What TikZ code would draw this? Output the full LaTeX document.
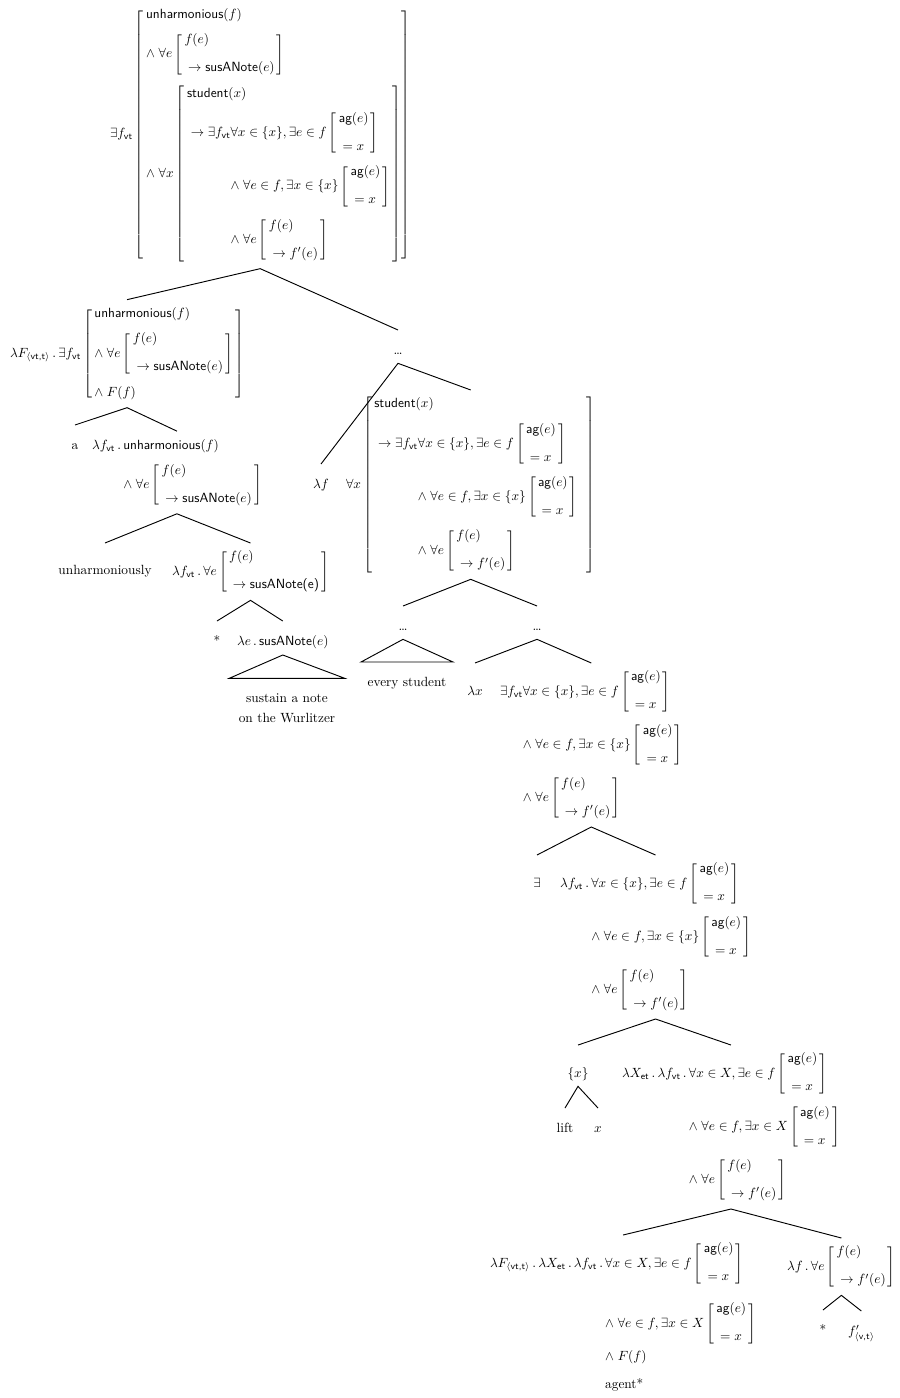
\documentclass[tikz,border=0pt]{standalone}
\usepackage{amsmath}
\usepackage{amssymb}
\usepackage{tikz}
\usetikzlibrary{positioning}

\newcommand{\sfn}[1]{\textsf{#1}}
\newcommand{\vt}{_{\sfn{vt}}}
\newcommand{\nl}{\\\noalign{\vskip 7pt}}
\newcommand{\brk}[2]{\left[\begin{array}{@{\,}l@{\,}}#1\\[9pt]#2\end{array}\right]}
\newcommand{\agx}{\brk{\sfn{ag}(e)}{{}=x}}

\begin{document}
\begin{tikzpicture}[x=0.75pt, y=-0.75pt,
    den/.style={inner sep=0pt, outer xsep=0pt, outer ysep=5pt, anchor=base west},
    wrd/.style={inner sep=0pt, outer xsep=0pt, outer ysep=5pt, text height=13pt, text depth=2pt, anchor=base},
    br/.style={line width=0.7pt}]
  \useasboundingbox (0,0) rectangle (899,1398);

  % root
  \node[den] (root) at (110,138) {$\exists f\vt\left[\begin{array}{@{\,}l@{}}
      \sfn{unharmonious}(f)\nl
      \wedge\;\forall e\brk{f(e)}{{}\to\sfn{susANote}(e)}\nl
      \wedge\;\forall x\left[\begin{array}{@{\,}r@{}l@{\,}}
        \multicolumn{2}{@{\,}l@{\,}}{\sfn{student}(x)}\nl
        {}\to\exists f\vt & \forall x\in\{x\},\exists e\in f\agx\nl
        & \wedge\;\forall e\in f,\exists x\in\{x\}\agx\nl
        & \wedge\;\forall e\brk{f(e)}{{}\to f'(e)}
      \end{array}\right]
    \end{array}\right]$};

  % left half: a unharmoniously ...
  \node[den] (qA) at (10,357) {$\lambda F_{\langle\sfn{vt,t}\rangle}\,.\,\exists f\vt\left[\begin{array}{@{\,}l@{\,}}
      \sfn{unharmonious}(f)\nl
      \wedge\;\forall e\brk{f(e)}{{}\to\sfn{susANote}(e)}\nl
      \wedge\;F(f)
    \end{array}\right]$};
  \node[wrd] (dots1) at (398,354) {\ldots};
  \node[wrd] (a) at (75,449) {a};
  \node[den] (unh) at (92,449) {$\begin{array}[t]{@{}r@{}l@{}}
      \lambda f\vt\,.\, & \sfn{unharmonious}(f)\nl
      & \wedge\;\forall e\brk{f(e)}{{}\to\sfn{susANote}(e)}
    \end{array}$};
  \node[wrd] (unhly) at (105,574) {unharmoniously};
  \node[den] (unhf) at (172,575) {$\lambda f\vt\,.\,\forall e\brk{f(e)}{{}\to\sfn{susANote(e)}}$};
  \node[wrd] (star1) at (217,645) {*};
  \node[den, text height=13pt] (le) at (237,645) {$\lambda e\,.\,\sfn{susANote}(e)$};
  \node[inner sep=0pt, align=center, anchor=north] (sust) at (287,693) {sustain a note\\[3pt]on the Wurlitzer};

  % right half: every student ...
  \node[wrd] (lf) at (321,488) {$\lambda f$};
  \node[den] (fx) at (346,488) {$\forall x\left[\begin{array}{@{\,}r@{}l@{\,}}
      \multicolumn{2}{@{\,}l@{\,}}{\sfn{student}(x)}\nl
      {}\to\exists f\vt & \forall x\in\{x\},\exists e\in f\agx\nl
      & \wedge\;\forall e\in f,\exists x\in\{x\}\agx\hspace{5pt}\nl
      & \wedge\;\forall e\brk{f(e)}{{}\to f'(e)}
    \end{array}\right]$};
  \node[wrd] (dotsL) at (403,630) {\ldots};
  \node[wrd] (dotsR) at (537,630) {\ldots};
  \node[wrd] (evs) at (407,686) {every student};
  \node[wrd] (lx) at (475,695) {$\lambda x$};
  \node[den] (exf) at (500,695) {$\begin{array}[t]{@{}r@{}l@{}}
      \exists f\vt & \forall x\in\{x\},\exists e\in f\agx\nl
      & \wedge\;\forall e\in f,\exists x\in\{x\}\agx\nl
      & \wedge\;\forall e\brk{f(e)}{{}\to f'(e)}
    \end{array}$};
  \node[wrd] (ex) at (537,887) {$\exists$};
  \node[den] (lfv) at (560,887) {$\begin{array}[t]{@{}r@{}l@{}}
      \lambda f\vt\,.\, & \forall x\in\{x\},\exists e\in f\agx\nl
      & \wedge\;\forall e\in f,\exists x\in\{x\}\agx\nl
      & \wedge\;\forall e\brk{f(e)}{{}\to f'(e)}
    \end{array}$};
  \node[wrd] (setx) at (578,1077) {$\{x\}$};
  \node[den] (lX) at (622,1077) {$\begin{array}[t]{@{}r@{}l@{}}
      \lambda X_{\sfn{et}}\,.\,\lambda f\vt\,.\, & \forall x\in X,\exists e\in f\agx\nl
      & \wedge\;\forall e\in f,\exists x\in X\agx\nl
      & \wedge\;\forall e\brk{f(e)}{{}\to f'(e)}
    \end{array}$};
  \node[wrd] (lift) at (565,1132) {lift};
  \node[wrd] (xx) at (598,1132) {$x$};
  \node[den] (ag) at (490,1267) {$\begin{array}[t]{@{}r@{}l@{}}
      \lambda F_{\langle\sfn{vt,t}\rangle}\,.\,\lambda X_{\sfn{et}}\,.\,\lambda f\vt\,.\, & \forall x\in X,\exists e\in f\agx\\\noalign{\vskip 12pt}
      & \wedge\;\forall e\in f,\exists x\in X\agx\\\noalign{\vskip 3pt}
      & \wedge\;F(f)\\[9pt]
      & \text{agent*}
    \end{array}$};
  \node[den] (lfe) at (787,1270) {$\lambda f\,.\,\forall e\brk{f(e)}{{}\to f'(e)}$};
  \node[wrd] (star2) at (823,1334) {*};
  \node[den, text height=13pt] (fp) at (848,1335) {$f'_{\langle\sfn{v,t}\rangle}$};

  % branches
  \draw[br] (qA.north) -- (root.south) -- (dots1.north);
  \draw[br] (a.north) -- (qA.south) -- (unh.north);
  \draw[br] (unhly.north |- unhf.north) -- (unh.south) -- (unhf.north);
  \draw[br] (star1.north) -- (unhf.south) -- (le.north);
  \draw[br] (le.south) -- ([xshift=-7pt, yshift=11pt]sust.north west) -- ([xshift=7pt, yshift=11pt]sust.north east) -- cycle;
  \draw[br] (lf.north) -- (dots1.south) -- (fx.north);
  \draw[br] (dotsL.north) -- (fx.south) -- (dotsR.north);
  \draw[br] (dotsL.south) -- ([xshift=-5pt]evs.north west) -- ([xshift=5pt]evs.north east) -- cycle;
  \draw[br] (lx.north |- exf.north) -- (dotsR.south) -- (exf.north);
  \draw[br] (ex.north |- lfv.north) -- (exf.south) -- (lfv.north);
  \draw[br] (setx.north |- lX.north) -- (lfv.south) -- (lX.north);
  \draw[br] (lift.north) -- (setx.south) -- (xx.north);
  \draw[br] (ag.north) -- (lX.south) -- (lfe.north);
  \draw[br] (star2.north) -- (lfe.south) -- (fp.north);
\end{tikzpicture}
\end{document}
